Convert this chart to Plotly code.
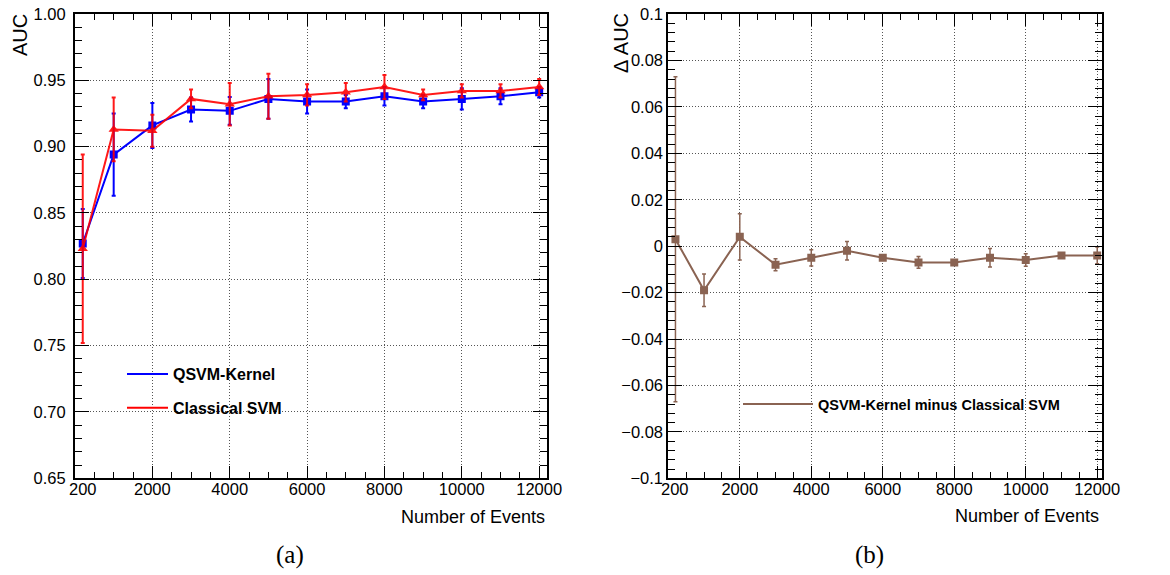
import plotly.graph_objects as go

# ---------------- data ----------------
n_events = [200, 1000, 2000, 3000, 4000, 5000, 6000, 7000, 8000, 9000, 10000, 11000, 12000]
qsvm_auc = [0.827, 0.894, 0.916, 0.928, 0.927, 0.936, 0.934, 0.934, 0.938, 0.934, 0.936, 0.938, 0.941]
qsvm_err = [0.026, 0.031, 0.017, 0.009, 0.0105, 0.015, 0.009, 0.005, 0.007, 0.005, 0.008, 0.006, 0.004]
svm_auc = [0.823, 0.913, 0.912, 0.936, 0.932, 0.938, 0.939, 0.941, 0.945, 0.939, 0.942, 0.942, 0.945]
svm_err = [0.071, 0.024, 0.012, 0.007, 0.016, 0.017, 0.008, 0.007, 0.009, 0.004, 0.005, 0.005, 0.006]
delta_auc = [0.003, -0.019, 0.004, -0.008, -0.005, -0.002, -0.005, -0.007, -0.007, -0.005, -0.006, -0.004, -0.004]
delta_err = [0.070, 0.007, 0.010, 0.0026, 0.0035, 0.004, 0.001, 0.0025, 0.001, 0.004, 0.0027, 0.001, 0.0036]

x_tick_vals = [2000, 4000, 6000, 8000, 10000, 12000]
x_tick_text = ["2000", "4000", "6000", "8000", "10000", "12000"]
x_first_label = "200"
auc_tick_vals = [0.65, 0.70, 0.75, 0.80, 0.85, 0.90, 0.95, 1.00]
auc_tick_text = ["0.65", "0.70", "0.75", "0.80", "0.85", "0.90", "0.95", "1.00"]
d_tick_vals = [-0.1, -0.08, -0.06, -0.04, -0.02, 0, 0.02, 0.04, 0.06, 0.08, 0.1]
d_tick_text = ["\u22120.1", "\u22120.08", "\u22120.06", "\u22120.04", "\u22120.02", "0",
               "0.02", "0.04", "0.06", "0.08", "0.1"]

# ---------------- style ----------------
W, H = 1170, 575
BLUE = "#0000ff"
RED = "#ff0000"
BROWN = "#8a6352"
FONT = "Liberation Sans, Arial, Helvetica, sans-serif"
SERIF = "Liberation Serif, DejaVu Serif, serif"
GRID = "#555555"


def px(x):
    return x / W


def py(y):
    return 1 - y / H


fig = go.Figure()

# Left panel traces
fig.add_trace(go.Scatter(
    x=n_events, y=qsvm_auc, mode="lines+markers", showlegend=False,
    line=dict(color=BLUE, width=2),
    marker=dict(symbol="square", size=8, color=BLUE),
    error_y=dict(type="data", array=qsvm_err, visible=True, color=BLUE, thickness=2, width=2),
    xaxis="x", yaxis="y"))
fig.add_trace(go.Scatter(
    x=n_events, y=svm_auc, mode="lines+markers", showlegend=False,
    line=dict(color=RED, width=2),
    marker=dict(symbol="triangle-up", size=9, color=RED),
    error_y=dict(type="data", array=svm_err, visible=True, color=RED, thickness=2, width=2),
    opacity=0.9,
    xaxis="x", yaxis="y"))

# Right panel trace
fig.add_trace(go.Scatter(
    x=n_events, y=delta_auc, mode="lines+markers", showlegend=False,
    line=dict(color=BROWN, width=2),
    marker=dict(symbol="square", size=8, color=BROWN),
    error_y=dict(type="data", array=delta_err, visible=True, color=BROWN, thickness=1.5, width=2),
    xaxis="x2", yaxis="y2"))

# Legend entries (line only, like the reference)
fig.add_trace(go.Scatter(x=[None], y=[None], mode="lines", name="QSVM-Kernel",
                         line=dict(color=BLUE, width=2), legend="legend", legendgroup="a",
                         xaxis="x", yaxis="y"))
fig.add_trace(go.Scatter(x=[None], y=[None], mode="lines", name="Classical SVM",
                         line=dict(color=RED, width=2), legend="legend", legendgroup="b",
                         xaxis="x", yaxis="y"))
fig.add_trace(go.Scatter(x=[None], y=[None], mode="lines", name="QSVM-Kernel minus Classical SVM",
                         line=dict(color=BROWN, width=2), legend="legend2",
                         xaxis="x2", yaxis="y2"))

ydom = [py(478.3), py(14)]

common_x = dict(
    tickmode="array", tickvals=x_tick_vals, ticktext=x_tick_text,
    ticks="inside", ticklen=12, tickwidth=1, tickcolor="black",
    showline=True, linecolor="black", linewidth=2, mirror="ticks",
    showgrid=True, gridcolor=GRID, griddash="1px,2px", gridwidth=1,
    zeroline=False, automargin=False, ticklabelstandoff=-5,
    minor=dict(dtick=500, tick0=0, ticks="inside", ticklen=6, tickcolor="black", showgrid=False),
    tickfont=dict(family=FONT, size=16.5, color="black"),
)
common_y = dict(
    tickmode="array",
    ticks="inside", ticklen=14, tickwidth=1, tickcolor="black",
    showline=True, linecolor="black", linewidth=2, mirror="ticks",
    showgrid=True, gridcolor=GRID, griddash="1px,2px", gridwidth=1,
    zeroline=False, automargin=False,
    tickfont=dict(family=FONT, size=16.5, color="black"),
)

fig.update_layout(
    width=W, height=H,
    margin=dict(l=0, r=0, t=0, b=0, autoexpand=False),
    paper_bgcolor="white", plot_bgcolor="white",
    font=dict(family=FONT, color="black"),
    xaxis=dict(domain=[px(75), px(547.3)], range=[0, 12210], anchor="y", **common_x),
    yaxis=dict(domain=ydom, range=[0.65, 1.0], anchor="x", tickvals=auc_tick_vals,
               ticktext=auc_tick_text, ticklabelstandoff=4,
               minor=dict(dtick=0.01, tick0=0.65, ticks="inside", ticklen=7, tickcolor="black",
                          showgrid=False),
               **common_y),
    xaxis2=dict(domain=[px(668.3), px(1101.7)], range=[0, 12125], anchor="y2", **common_x),
    yaxis2=dict(domain=ydom, range=[-0.1, 0.1], anchor="x2", tickvals=d_tick_vals,
                ticktext=d_tick_text, ticklabelstandoff=0,
                minor=dict(dtick=0.004, tick0=0, ticks="inside", ticklen=7, tickcolor="black",
                           showgrid=False),
                **common_y),
    legend=dict(x=px(122), y=py(357), xanchor="left", yanchor="top",
                bgcolor="rgba(0,0,0,0)", borderwidth=0, tracegroupgap=10, itemwidth=41,
                font=dict(family=FONT, size=16, color="black", weight="bold")),
    legend2=dict(x=px(738), y=py(388), xanchor="left", yanchor="top",
                 bgcolor="rgba(0,0,0,0)", borderwidth=0, itemwidth=70,
                 font=dict(family=FONT, size=14.5, color="black", weight="bold")),
    shapes=[
        dict(type="rect", xref="paper", yref="paper", x0=px(119), x1=px(338),
             y0=py(424), y1=py(357), fillcolor="white", line=dict(width=0), layer="between"),
        dict(type="rect", xref="paper", yref="paper", x0=px(730), x1=px(1077),
             y0=py(424), y1=py(380), fillcolor="white", line=dict(width=0), layer="between"),
    ],
    annotations=[
        dict(text="AUC", x=px(20), y=py(12), xref="paper", yref="paper", textangle=-90,
             xanchor="center", yanchor="top", showarrow=False,
             font=dict(family=FONT, size=20, color="black")),
        dict(text="\u0394 AUC", x=px(621), y=py(11), xref="paper", yref="paper", textangle=-90,
             xanchor="center", yanchor="top", showarrow=False,
             font=dict(family=FONT, size=20, color="black")),
        dict(text="Number of Events", x=px(547), y=py(517), xref="paper", yref="paper",
             xanchor="right", yanchor="middle", showarrow=False,
             font=dict(family=FONT, size=18, color="black")),
        dict(text="Number of Events", x=px(1101), y=py(516), xref="paper", yref="paper",
             xanchor="right", yanchor="middle", showarrow=False,
             font=dict(family=FONT, size=18, color="black")),
        dict(text=x_first_label, x=200, y=py(478.3), xref="x", yref="paper",
             xanchor="center", yanchor="top", showarrow=False, yshift=0,
             font=dict(family=FONT, size=16.5, color="black")),
        dict(text=x_first_label, x=200, y=py(478.3), xref="x2", yref="paper",
             xanchor="center", yanchor="top", showarrow=False, yshift=0,
             font=dict(family=FONT, size=16.5, color="black")),
        dict(text="(a)", x=px(290), y=py(555), xref="paper", yref="paper",
             xanchor="center", yanchor="middle", showarrow=False,
             font=dict(family=SERIF, size=25, color="black")),
        dict(text="(b)", x=px(869), y=py(555), xref="paper", yref="paper",
             xanchor="center", yanchor="middle", showarrow=False,
             font=dict(family=SERIF, size=25, color="black")),
    ],
)

fig.write_html("out.html")
